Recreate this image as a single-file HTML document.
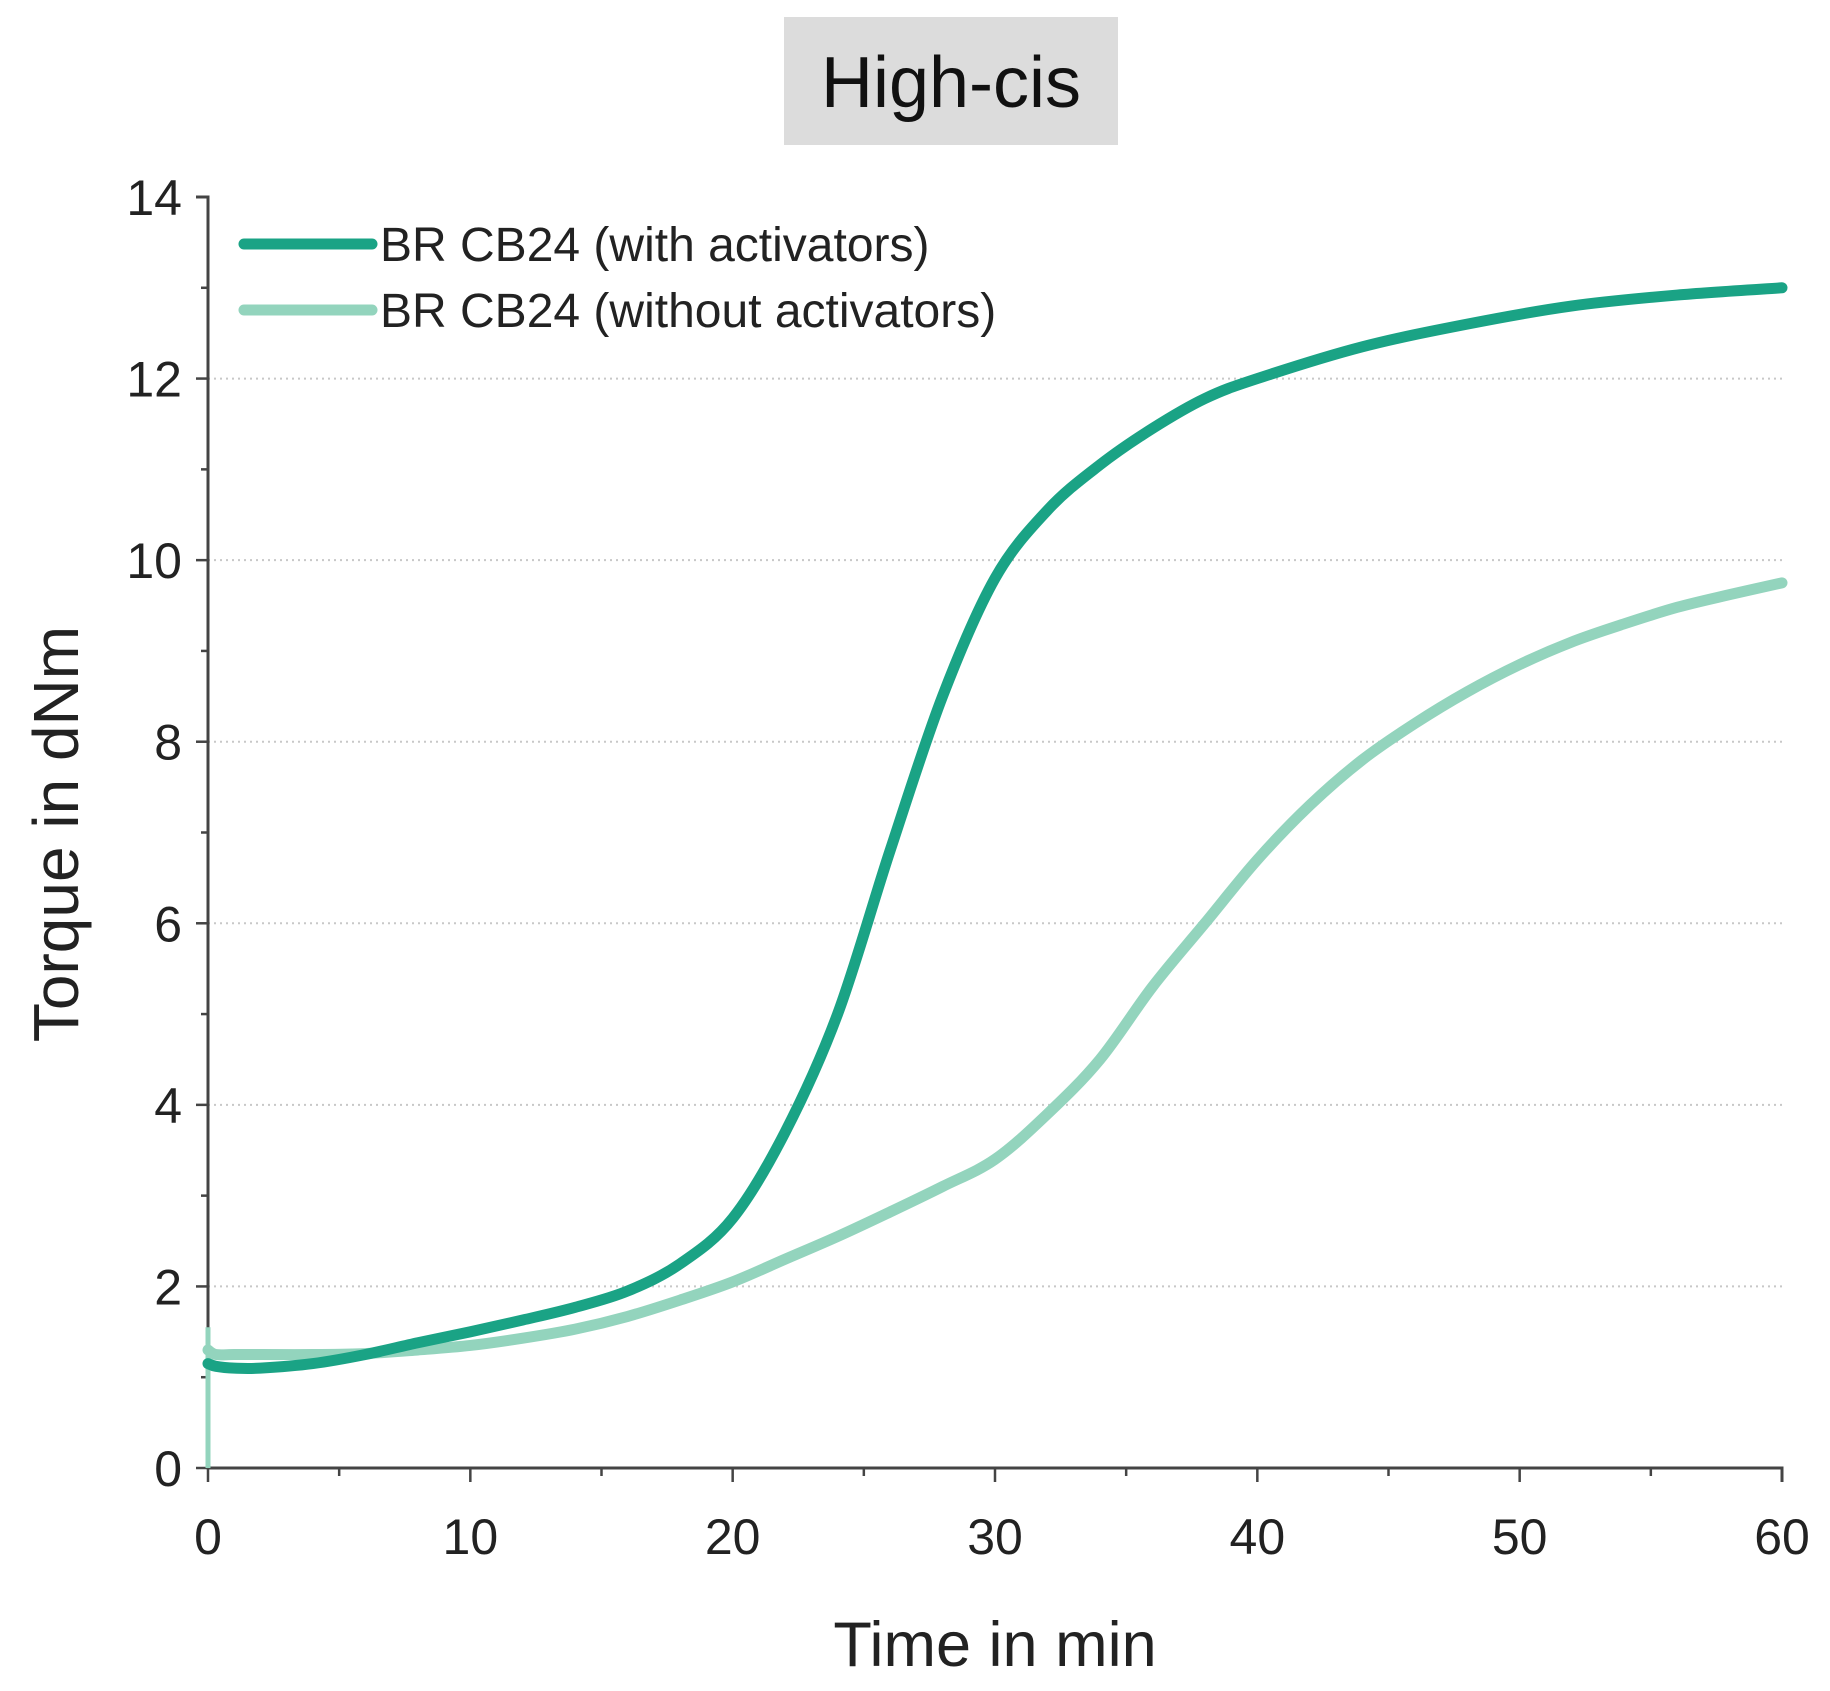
<!DOCTYPE html>
<html><head><meta charset="utf-8"><style>
body{margin:0;background:#fff;}
svg{display:block;font-family:"Liberation Sans",sans-serif;}
</style></head><body>
<svg id="chart" width="1830" height="1691" viewBox="0 0 1830 1691">
<rect x="784" y="17" width="334" height="128" fill="#dcdcdc"/>
<text x="951" y="107" font-size="72" text-anchor="middle" fill="#111">High-cis</text>
<g id="grid"></g><g id="axes"></g><g id="series"></g>
<g>
<line x1="244" y1="244" x2="372" y2="244" stroke="#1aa385" stroke-width="11" stroke-linecap="round"/>
<text x="380" y="261" font-size="48" fill="#222">BR CB24 (with activators)</text>
<line x1="244" y1="310" x2="372" y2="310" stroke="#93d4bd" stroke-width="11" stroke-linecap="round"/>
<text x="380" y="327" font-size="48" fill="#222">BR CB24 (without activators)</text>
</g>
<text x="995" y="1666" font-size="63" text-anchor="middle" fill="#222">Time in min</text>
<text transform="translate(78,834) rotate(-90)" font-size="64" text-anchor="middle" fill="#222">Torque in dNm</text>
</svg>
<script>
const xTicks=[0,10,20,30,40,50,60];
const yTicks=[0,2,4,6,8,10,12,14];
const tWith=[0,0.3,1,2,4,6,8,10,12,14,16,18,20,22,24,26,28,30,32,34,36,38,40,44,48,52,56,60];
const vWith=[1.15,1.12,1.1,1.1,1.15,1.25,1.38,1.5,1.63,1.77,1.95,2.25,2.75,3.7,5.0,6.8,8.5,9.8,10.55,11.05,11.45,11.78,12.0,12.35,12.6,12.8,12.92,13.0];
const tWithout=[0,0.3,1,2,4,6,8,10,12,14,16,18,20,22,24,26,28,30,32,34,36,38,40,42,44,46,48,50,52,54,56,58,60];
const vWithout=[1.3,1.25,1.25,1.25,1.25,1.26,1.3,1.35,1.43,1.53,1.67,1.85,2.05,2.3,2.55,2.82,3.1,3.4,3.9,4.5,5.3,6.0,6.7,7.3,7.8,8.2,8.55,8.85,9.1,9.3,9.48,9.62,9.75];
const X0=208,X1=1782,Y0=1468,Y1=197;
const sx=v=>X0+(v-0)/(60-0)*(X1-X0);
const sy=v=>Y0-(v-0)/(14-0)*(Y0-Y1);
const NS="http://www.w3.org/2000/svg";
function mk(tag,attrs,parent){const e=document.createElementNS(NS,tag);for(const k in attrs)e.setAttribute(k,attrs[k]);parent.appendChild(e);return e;}
const grid=document.getElementById('grid'),axes=document.getElementById('axes'),ser=document.getElementById('series');
yTicks.forEach(v=>{if(v>0&&v<14){const l=mk('line',{x1:X0,x2:X1,y1:sy(v),y2:sy(v),stroke:'#c8c8c8','stroke-width':2,'stroke-dasharray':'2,4'},grid);

}});
const ax=mk('path',{d:`M${X0-12},${Y1} H${X0} V${Y0} H${X1} V${Y0+14}`,fill:'none',stroke:'#444','stroke-width':3},axes);


for(let v=0;v<=14;v++){const big=v%2==0;mk('line',{x1:X0-(big?12:7),x2:X0,y1:sy(v),y2:sy(v),stroke:'#444','stroke-width':2.5},axes);}
for(let v=0;v<=60;v+=5){const big=v%10==0;mk('line',{x1:sx(v),x2:sx(v),y1:Y0,y2:Y0+(big?14:8),stroke:'#444','stroke-width':2.5},axes);}
yTicks.forEach(v=>{const t=mk('text',{x:X0-26,y:sy(v)+18,'font-size':50,'text-anchor':'end',fill:'#222'},axes);t.textContent=v;

});
xTicks.forEach(v=>{const t=mk('text',{x:sx(v),y:Y0+86,'font-size':50,'text-anchor':'middle',fill:'#222'},axes);t.textContent=v;

});
function smooth(ts,vs){const p=ts.map((t,i)=>[sx(t),sy(vs[i])]);let d=`M${p[0][0]},${p[0][1]}`;
for(let i=0;i<p.length-1;i++){const a=p[i-1]||p[i],b=p[i],c=p[i+1],e=p[i+2]||c;
d+=` C${b[0]+(c[0]-a[0])/6},${b[1]+(c[1]-a[1])/6} ${c[0]-(e[0]-b[0])/6},${c[1]-(e[1]-b[1])/6} ${c[0]},${c[1]}`;}return d;}
const spike=mk('line',{x1:sx(0),x2:sx(0),y1:sy(0),y2:sy(1.55),stroke:'#93d4bd','stroke-width':5},ser);


const l2=mk('path',{d:smooth(tWithout,vWithout),fill:'none',stroke:'#93d4bd','stroke-width':11,'stroke-linecap':'round','stroke-linejoin':'round'},ser);


const l1=mk('path',{d:smooth(tWith,vWith),fill:'none',stroke:'#1aa385','stroke-width':11,'stroke-linecap':'round','stroke-linejoin':'round'},ser);


</script>
</body></html>
